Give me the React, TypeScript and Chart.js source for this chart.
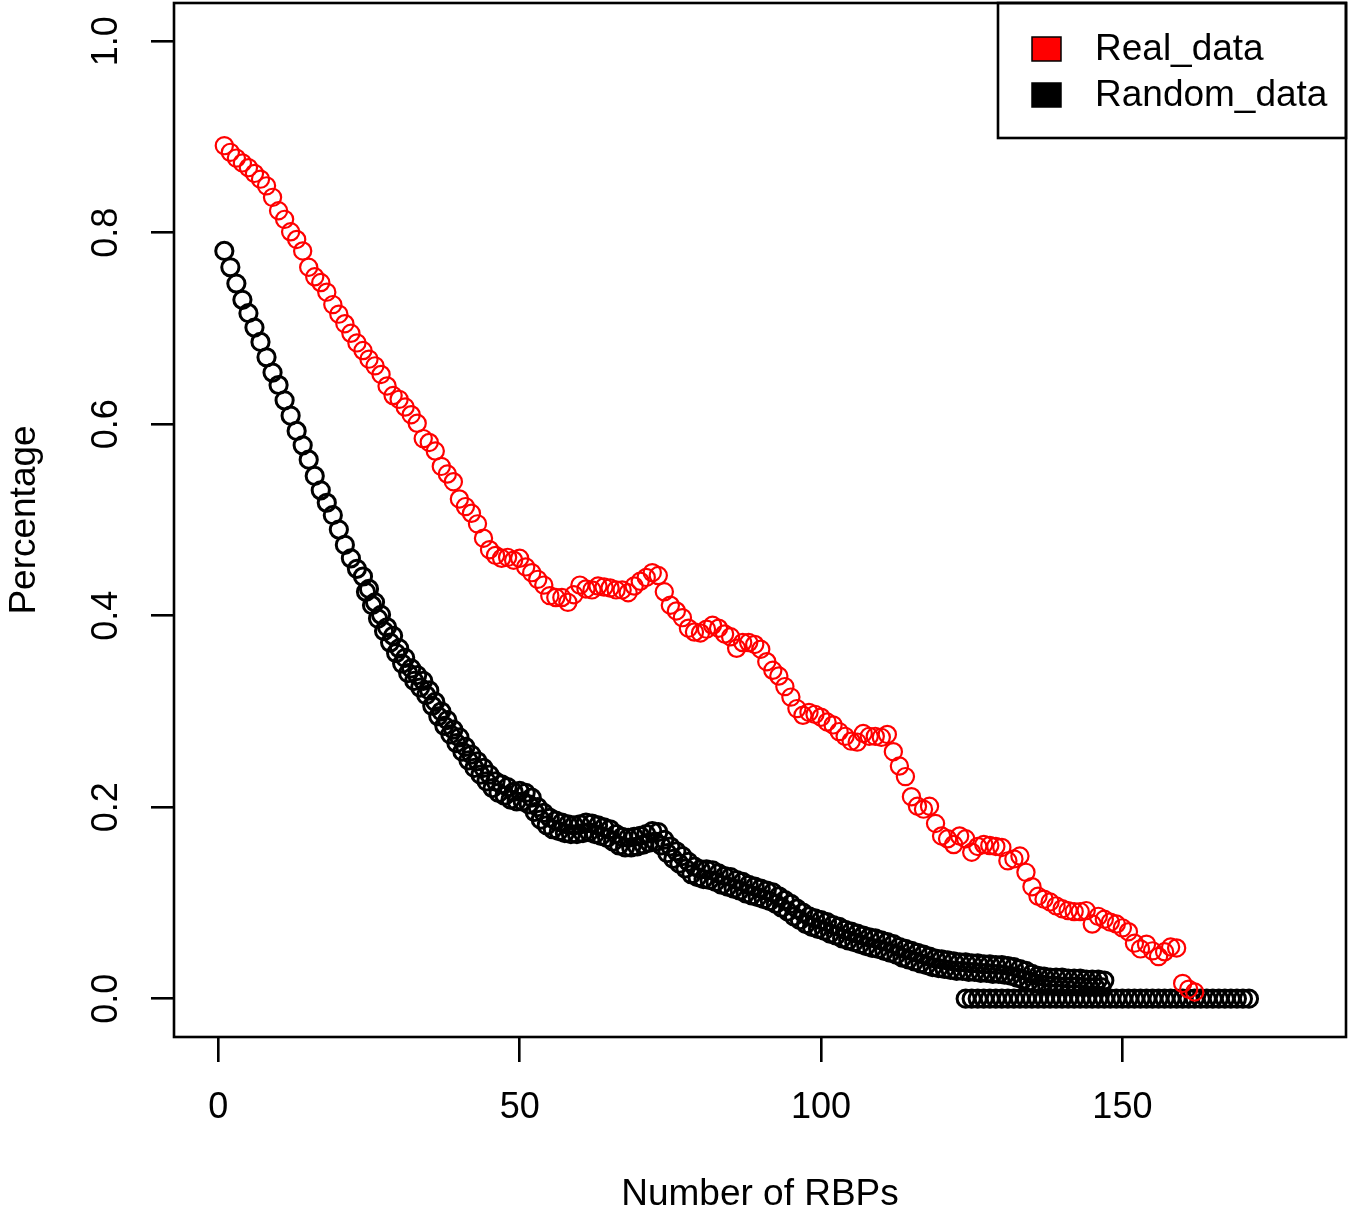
import { useEffect, useRef } from "react";
import Chart from "chart.js/auto";

const FONT = '"Liberation Sans", Arial, Helvetica, sans-serif';

// Real_data, one value per RBP count (x = 1, 2, 3, ...)
const realData = [
  0.891, 0.884, 0.878, 0.873, 0.868, 0.862, 0.856, 0.849, 0.837, 0.823,
  0.814, 0.801, 0.793, 0.781, 0.764, 0.754, 0.748, 0.738, 0.725, 0.715,
  0.705, 0.695, 0.685, 0.677, 0.668, 0.661, 0.652, 0.64, 0.63, 0.626,
  0.618, 0.61, 0.601, 0.585, 0.581, 0.572, 0.556, 0.548, 0.54, 0.522,
  0.514, 0.507, 0.496, 0.481, 0.469, 0.463, 0.46, 0.461, 0.458, 0.46,
  0.451, 0.445, 0.438, 0.432, 0.421, 0.419, 0.419, 0.414, 0.422, 0.432,
  0.428, 0.427, 0.431, 0.43, 0.429, 0.427, 0.427, 0.424, 0.431, 0.436,
  0.44, 0.445, 0.442, 0.425, 0.411, 0.405, 0.398, 0.387, 0.383, 0.382,
  0.386, 0.39, 0.387, 0.381, 0.378, 0.366, 0.372, 0.372, 0.37, 0.365,
  0.352, 0.343, 0.337, 0.326, 0.315, 0.303, 0.296, 0.299, 0.297, 0.294,
  0.289, 0.286, 0.279, 0.274, 0.269, 0.268, 0.277, 0.274, 0.274, 0.273,
  0.276, 0.258, 0.243, 0.232, 0.211, 0.201, 0.198, 0.201, 0.183, 0.17,
  0.167, 0.161, 0.17, 0.167, 0.153, 0.159, 0.161, 0.16, 0.159, 0.158,
  0.144, 0.146, 0.149, 0.132, 0.117, 0.107, 0.104, 0.101, 0.097, 0.094,
  0.092, 0.091, 0.091, 0.092, 0.078, 0.086, 0.083, 0.08, 0.078, 0.074,
  0.07, 0.058, 0.052, 0.057, 0.05, 0.044, 0.049, 0.054, 0.053, 0.016,
  0.01, 0.007,
];

// Random_data, upper run (x = 1, 2, 3, ...)
const randomData = [
  0.781, 0.764, 0.747, 0.73, 0.716, 0.701, 0.686, 0.67, 0.654, 0.641,
  0.625, 0.609, 0.593, 0.578, 0.563, 0.546, 0.531, 0.518, 0.505, 0.49,
  0.474, 0.46, 0.449, 0.441, 0.428, 0.414, 0.401, 0.388, 0.379, 0.366,
  0.356, 0.345, 0.338, 0.332, 0.322, 0.31, 0.3, 0.291, 0.281, 0.273,
  0.263, 0.255, 0.248, 0.241, 0.234, 0.227, 0.224, 0.221, 0.216, 0.217,
  0.215, 0.21, 0.2, 0.194, 0.189, 0.186, 0.184, 0.182, 0.181, 0.182,
  0.184, 0.183, 0.181, 0.179, 0.177, 0.172, 0.169, 0.168, 0.169, 0.17,
  0.172, 0.175, 0.174, 0.166, 0.159, 0.154, 0.149, 0.143, 0.138, 0.135,
  0.135, 0.134, 0.131, 0.128, 0.127, 0.124, 0.122, 0.119, 0.117, 0.115,
  0.113, 0.111, 0.107, 0.103, 0.099, 0.094, 0.09, 0.086, 0.084, 0.082,
  0.08, 0.077, 0.075, 0.072, 0.07, 0.068, 0.066, 0.064, 0.063, 0.061,
  0.059, 0.057, 0.054, 0.052, 0.05, 0.048, 0.046, 0.044, 0.042, 0.041,
  0.04, 0.039, 0.038, 0.038, 0.037, 0.037, 0.036, 0.036, 0.035, 0.035,
  0.034, 0.033, 0.031, 0.029, 0.026, 0.024, 0.023, 0.022, 0.022, 0.022,
  0.021, 0.021, 0.021, 0.02, 0.02, 0.02, 0.019,
];

// Random_data, lower run (x = 24.5, 25.5, ...)
const randomLowStart = 24.5;
const randomLow = [
  0.425, 0.411, 0.397, 0.384, 0.372, 0.361, 0.35, 0.34, 0.332, 0.325,
  0.317, 0.306, 0.295, 0.285, 0.276, 0.267, 0.258, 0.249, 0.241, 0.234,
  0.227, 0.22, 0.215, 0.212, 0.208, 0.206, 0.206, 0.203, 0.195, 0.187,
  0.181, 0.177, 0.175, 0.173, 0.172, 0.172, 0.173, 0.174, 0.172, 0.17,
  0.168, 0.164, 0.16, 0.158, 0.158, 0.159, 0.161, 0.163, 0.164, 0.16,
  0.152, 0.146, 0.141, 0.136, 0.13, 0.127, 0.125, 0.124, 0.122, 0.119,
  0.117, 0.115, 0.113, 0.11, 0.108, 0.106, 0.104, 0.102, 0.099, 0.095,
  0.091, 0.086, 0.082, 0.078, 0.075, 0.073, 0.071, 0.068, 0.066, 0.063,
  0.061, 0.059, 0.057, 0.055, 0.053, 0.052, 0.05, 0.048, 0.046, 0.043,
  0.041, 0.039, 0.037, 0.035, 0.033, 0.032, 0.031, 0.03, 0.029, 0.029,
  0.028, 0.028, 0.027, 0.027, 0.026, 0.026, 0.025, 0.024, 0.022, 0.02,
  0.018, 0.016, 0.015, 0.014, 0.014, 0.013, 0.013, 0.013, 0.013, 0.012,
  0.012, 0.012, 0.012,
];

// Random_data, runs that hit zero (x = 124 ... 171)
const randomTailStart = 124;
const randomTail = [
  0, 0, 0, 0, 0, 0, 0, 0, 0, 0, 0, 0, 0, 0, 0, 0,
  0, 0, 0, 0, 0, 0, 0, 0, 0, 0, 0, 0, 0, 0, 0, 0,
  0, 0, 0, 0, 0, 0, 0, 0, 0, 0, 0, 0, 0, 0, 0, 0,
];

const xTicks = [0, 50, 100, 150];
const yTicks = [0, 0.2, 0.4, 0.6, 0.8, 1.0];
const yTickLabels = ["0.0", "0.2", "0.4", "0.6", "0.8", "1.0"];
const seriesLabels = ["Real_data", "Random_data"];
const seriesColors = ["#ff0000", "#000000"];

const toPoints = (values: number[], start: number) =>
  values.map((y, i) => ({ x: start + i, y }));

// R-style frame, rotated y tick labels and boxed legend
const rPlotDecor = {
  id: "rPlotDecor",
  afterDraw(chart: any) {
    const { ctx, chartArea } = chart;
    const yScale = chart.scales.y;
    ctx.save();
    ctx.strokeStyle = "#000";
    ctx.lineWidth = 2.6;
    ctx.strokeRect(
      chartArea.left,
      chartArea.top,
      chartArea.right - chartArea.left,
      chartArea.bottom - chartArea.top
    );

    ctx.fillStyle = "#000";
    ctx.font = `36px ${FONT}`;
    ctx.textAlign = "center";
    ctx.textBaseline = "middle";
    yTicks.forEach((v, i) => {
      const py = yScale.getPixelForValue(v);
      ctx.save();
      ctx.translate(chartArea.left - 67, py);
      ctx.rotate(-Math.PI / 2);
      ctx.fillText(yTickLabels[i], 0, 0);
      ctx.restore();
    });

    // legend
    const lx = chartArea.right - 348;
    const ly = chartArea.top;
    ctx.lineWidth = 2.6;
    ctx.strokeRect(lx, ly, chartArea.right - lx, 135);
    ctx.font = `37px ${FONT}`;
    ctx.textAlign = "left";
    seriesLabels.forEach((label, i) => {
      const cy = ly + 46 + i * 46;
      ctx.fillStyle = seriesColors[i];
      ctx.fillRect(lx + 34, cy - 12, 29, 24);
      ctx.lineWidth = 1.5;
      ctx.strokeStyle = "#000";
      ctx.strokeRect(lx + 34, cy - 12, 29, 24);
      ctx.fillStyle = "#000";
      ctx.fillText(label, lx + 97, cy + 1);
    });
    ctx.restore();
  },
};

const App = () => {
  const canvasRef = useRef<HTMLCanvasElement>(null);

  useEffect(() => {
    if (!canvasRef.current) return;

    const pointStyle = (color: string, width: number) => ({
      showLine: false,
      pointStyle: "circle" as const,
      pointRadius: 8.6,
      pointBorderWidth: width,
      pointBackgroundColor: "rgba(0,0,0,0)",
      pointBorderColor: color,
      borderColor: color,
      backgroundColor: color,
    });

    const chart = new Chart(canvasRef.current, {
      type: "scatter",
      data: {
        datasets: [
          { label: seriesLabels[0], data: toPoints(realData, 1), ...pointStyle(seriesColors[0], 2.2) },
          { label: seriesLabels[1], data: toPoints(randomData, 1), ...pointStyle(seriesColors[1], 3) },
          { label: seriesLabels[1], data: toPoints(randomLow, randomLowStart), ...pointStyle(seriesColors[1], 3) },
          { label: seriesLabels[1], data: toPoints(randomTail, randomTailStart), ...pointStyle(seriesColors[1], 3) },
        ],
      },
      options: {
        responsive: false,
        animation: false,
        events: [],
        layout: { autoPadding: false, padding: { top: 3, right: 4, left: 0, bottom: 0 } },
        plugins: {
          legend: { display: false },
          tooltip: { enabled: false },
        },
        scales: {
          x: {
            type: "linear",
            min: -7.35,
            max: 187.1,
            afterBuildTicks: (scale: any) => {
              scale.ticks = xTicks.map((value) => ({ value }));
            },
            afterFit: (scale: any) => {
              scale.height = 178;
            },
            border: { display: false },
            grid: {
              drawOnChartArea: false,
              drawTicks: true,
              tickLength: 25,
              color: "#000",
              lineWidth: 2.6,
            },
            ticks: {
              color: "#000",
              maxRotation: 0,
              padding: 24,
              font: { family: FONT, size: 36 },
              callback: (value: any) => String(value),
            },
            title: {
              display: true,
              text: "Number of RBPs",
              color: "#000",
              font: { family: FONT, size: 37, lineHeight: 1.1 },
              padding: { top: 0, bottom: 0 },
            },
          },
          y: {
            type: "linear",
            min: -0.04,
            max: 1.04,
            afterBuildTicks: (scale: any) => {
              scale.ticks = yTicks.map((value) => ({ value }));
            },
            afterFit: (scale: any) => {
              scale.width = 174;
            },
            border: { display: false },
            grid: {
              drawOnChartArea: false,
              drawTicks: true,
              tickLength: 23,
              color: "#000",
              lineWidth: 2.6,
            },
            ticks: { display: false },
            title: {
              display: true,
              text: "Percentage",
              color: "#000",
              font: { family: FONT, size: 37, lineHeight: 1.1 },
              padding: { top: 4, bottom: 0 },
            },
          },
        },
      },
      plugins: [rPlotDecor],
    });

    return () => {
      chart.destroy();
    };
  }, []);

  return (
    <div style={{ position: "absolute", left: 0, top: 0, width: 1350, height: 1215, background: "#fff" }}>
      <canvas ref={canvasRef} width={1350} height={1215} />
    </div>
  );
};

export default App;
